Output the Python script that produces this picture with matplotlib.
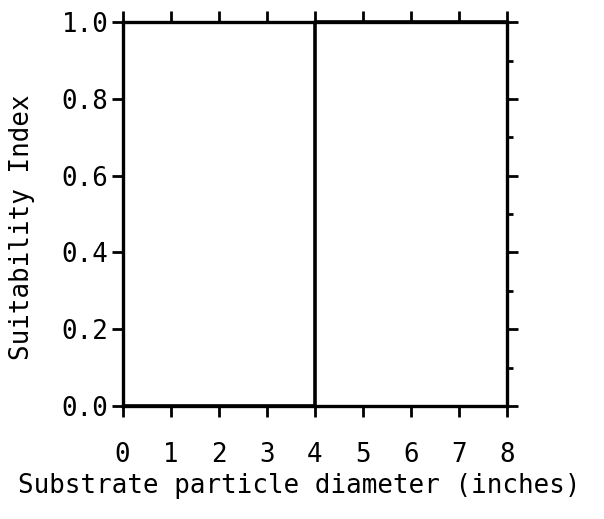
import matplotlib
matplotlib.use("Agg")
import matplotlib.pyplot as plt
import numpy as np

# step curve: SI = 0 below 4 inches, 1 from 4 inches up
diam = [0, 4, 4, 8]
si = [0.0, 0.0, 1.0, 1.0]

xticks = [0, 1, 2, 3, 4, 5, 6, 7, 8]
yticks = [0.0, 0.2, 0.4, 0.6, 0.8, 1.0]

plt.rcParams['font.family'] = ['DejaVu Sans Mono']
plt.rcParams['font.size'] = 18.6

fig = plt.figure(figsize=(6.04, 5.19), dpi=100)
ax = fig.add_axes([0.203, 0.218, 0.636, 0.739])

ax.plot(diam, si, color="black", lw=2.6, solid_capstyle="butt", clip_on=False)

ax.set_xlim(0, 8)
ax.set_ylim(0, 1)
for s in ax.spines.values():
    s.set_linewidth(2.4)

ax.set_xticks(xticks)
ax.set_xticklabels([str(t) for t in xticks])
ax.set_yticks(yticks)
ax.set_yticklabels(["%.1f" % t for t in yticks])
ax.set_yticks(np.arange(0.1, 1.0, 0.2), minor=True)

ax.tick_params(axis="x", which="major", direction="out", length=8, width=2,
               top=True, pad=18)
ax.tick_params(axis="y", which="major", direction="out", length=8, width=2,
               right=True, pad=2)
ax.tick_params(axis="y", which="minor", direction="out", length=4, width=2,
               right=True, left=False)

ax.set_xlabel("Substrate particle diameter (inches)", va="center")
ax.set_ylabel("Suitability Index", va="center")
ax.xaxis.set_label_coords(0.46, -0.209)
ax.yaxis.set_label_coords(-0.261, 0.465)

fig.savefig("out.png", dpi=100)
